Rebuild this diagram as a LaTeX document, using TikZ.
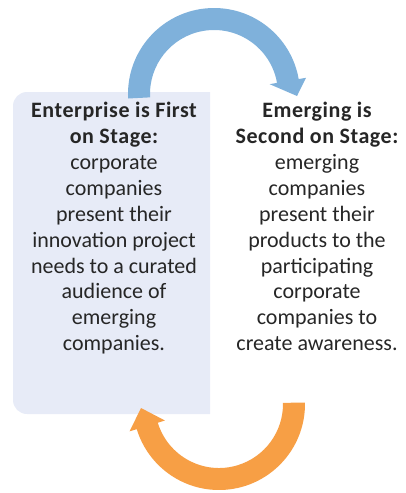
\documentclass[tikz,border=0pt]{standalone}
\usepackage{fontspec}
\setmainfont{Carlito}
\definecolor{boxfill}{HTML}{E7EBF7}
\definecolor{bluearr}{HTML}{7FB1DB}
\definecolor{orangearr}{HTML}{F79F45}
\definecolor{txt}{HTML}{262626}
\newcommand{\headline}[1]{{\bfseries\addfontfeature{LetterSpace=2.5}#1}}
\tikzset{
  coltext/.style={anchor=north, align=center, inner sep=0pt, text=txt,
    font=\fontsize{22}{25.9}\selectfont},
}
\begin{document}
\begin{tikzpicture}[x=1pt,y=-1pt]
\useasboundingbox (0,0) rectangle (406,493);
% left box
\fill[boxfill] (210,92) [rounded corners=14pt] -- (13,92) -- (13,414) [sharp corners] -- (210,414) -- cycle;
% blue arrow
\begin{scope}[shift={(214,94)}]
\fill[bluearr] (177:86) arc[start angle=177, end angle=350, radius=86]
  -- (350:93.5) -- (83,2) -- (350:56.5) -- (350:64)
  arc[start angle=350, end angle=177, radius=64] -- cycle;
\end{scope}
% orange arrow
\begin{scope}[shift={(219,404)}]
\fill[orangearr] (-1:86) arc[start angle=-1, end angle=163, radius=86]
  -- (163:93.5) -- (-78,4) -- (163:56.5) -- (163:64)
  arc[start angle=163, end angle=-1, radius=64] -- cycle;
\end{scope}
\node[coltext] (first) at (114,102) {\headline{Enterprise is First}\\\headline{on Stage:}\\corporate\\companies\\present their\\innovation project\\needs to a curated\\audience of\\emerging\\companies.};
\node[coltext] (second) at (317,102) {\headline{Emerging is}\\\headline{Second on Stage:}\\emerging\\companies\\present their\\products to the\\participating\\corporate\\companies to\\create awareness.};
\end{tikzpicture}
\end{document}
